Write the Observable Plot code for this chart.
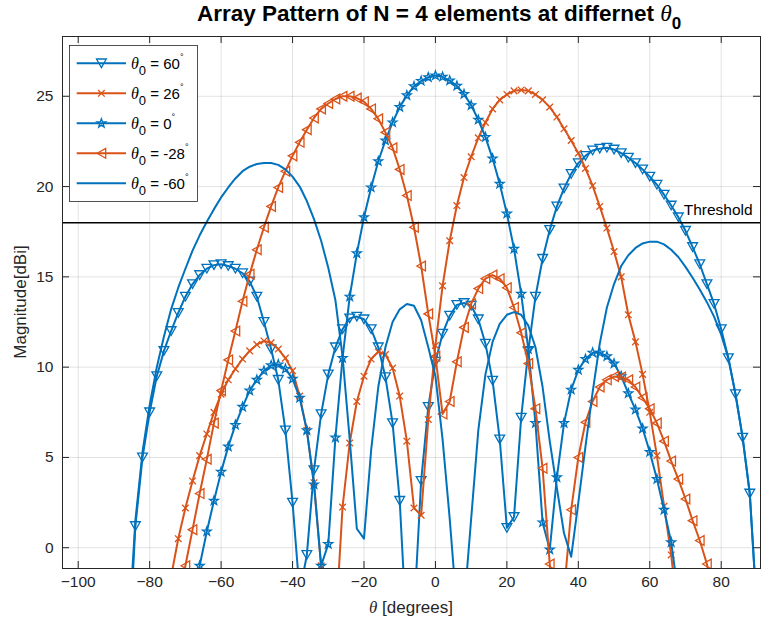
<!DOCTYPE html>
<html>
<head>
<meta charset="utf-8">
<script src="https://cdn.jsdelivr.net/npm/d3@7"></script>
<script src="https://cdn.jsdelivr.net/npm/@observablehq/plot@0.6"></script>
<style>
  html, body { margin: 0; padding: 0; background: #fff; }
  #chart { position: relative; width: 761px; height: 623px; }
</style>
</head>
<body>
<div id="chart"></div>
<script>
// Scan angle θ in degrees (one sample every 2°)
const angle = [
  -90,-88,-86,-84,-82,-80,-78,-76,-74,-72,
  -70,-68,-66,-64,-62,-60,-58,-56,-54,-52,
  -50,-48,-46,-44,-42,-40,-38,-36,-34,-32,
  -30,-28,-26,-24,-22,-20,-18,-16,-14,-12,
  -10,-8,-6,-4,-2,0,2,4,6,8,
  10,12,14,16,18,20,22,24,26,28,
  30,32,34,36,38,40,42,44,46,48,
  50,52,54,56,58,60,62,64,66,68,
  70,72,74,76,78,80,82,84,86,88,
  90
];

// Array gain in dBi for each steering angle θ0 (null = far below the axis)
const gain60 = [
  null, null, -6.5, 1.2, 5.0, 7.5, 9.5, 10.9, 12.0, 13.0,
  13.9, 14.6, 15.1, 15.45, 15.65, 15.7, 15.6, 15.45, 15.2, 14.75,
  13.9, 12.5, 11.0, 9.3, 6.5, 2.5, -2.5, -0.4, 4.3, 7.4,
  9.6, 11.1, 12.1, 12.7, 12.8, 12.65, 12.1, 11.1, 9.45, 6.9,
  2.6, -4.9, -3.7, 3.7, 7.8, 10.3, 11.85, 12.85, 13.45, 13.55,
  13.4, 12.65, 11.3, 9.25, 6.0, 1.1, 1.7, 7.2, 10.9, 13.9,
  16.0, 17.6, 18.9, 19.9, 20.7, 21.3, 21.7, 22.0, 22.1, 22.15,
  22.05, 21.85, 21.6, 21.3, 20.95, 20.55, 20.1, 19.55, 18.95, 18.3,
  17.55, 16.65, 15.7, 14.6, 13.5, 12.1, 10.5, 8.5, 6.1, 3.0,
  -3.5
];
const gain26 = [
  null, null, null, null, null, null, null, null, -1.6, 0.5,
  2.2, 3.7, 5.1, 6.3, 7.5, 8.5, 9.3, 9.9, 10.45, 10.9,
  11.25, 11.45, 11.35, 11.0, 10.5, 9.8, 8.4, 6.5, 3.6, -1.0,
  -8, -4.5, 2.25, 5.8, 8.1, 9.5, 10.45, 10.85, 10.7, 9.95,
  8.4, 5.9, 2.2, 1.8, 7.1, 11.2, 14.5, 17.0, 18.95, 20.5,
  21.65, 22.7, 23.55, 24.3, 24.8, 25.1, 25.3, 25.35, 25.3, 25.1,
  24.8, 24.4, 23.85, 23.2, 22.55, 21.85, 21.0, 20.05, 18.9, 17.7,
  16.4, 15.0, 12.9, 11.4, 9.6, 7.5, 5.1, 2.3, -0.4, -4,
  null, null, null, null, null, null, null, null, null, null,
  null
];
const gain0 = [
  null, null, null, null, null, null, null, null, null, null,
  null, -3.5, -1.0, 0.9, 2.6, 4.2, 5.6, 6.8, 7.8, 8.7,
  9.3, 9.8, 10.1, 10.15, 9.9, 9.35, 8.3, 6.5, 3.5, -1.0,
  0.2, 6.1, 10.5, 13.9, 16.3, 18.3, 19.95, 21.4, 22.55, 23.55,
  24.4, 25.05, 25.55, 25.85, 26.05, 26.15, 26.08, 25.87, 25.58, 25.12,
  24.5, 23.7, 22.74, 21.55, 20.15, 18.5, 16.55, 14.06, 11.0, 6.9,
  1.4, -0.1, 3.9, 6.9, 8.75, 9.85, 10.45, 10.8, 10.8, 10.6,
  10.2, 9.5, 8.55, 7.65, 6.6, 5.3, 3.8, 2.1, 0.3, -2.6,
  null, null, null, null, null, null, null, null, null, null,
  null
];
const gainM28 = [
  null, null, null, null, null, null, null, null, null, -3.2,
  -1.0, 1.0, 3.0, 4.9, 6.9, 8.7, 10.4, 12.0, 13.65, 15.15,
  16.5, 17.75, 18.9, 19.95, 20.85, 21.7, 22.45, 23.15, 23.8, 24.3,
  24.6, 24.85, 25.0, 25.0, 24.9, 24.7, 24.3, 23.75, 23.0, 22.15,
  20.95, 19.5, 17.75, 15.6, 12.95, 10.6, 7.4, 8.1, 10.3, 12.2,
  13.5, 14.35, 14.9, 15.1, 14.9, 14.4, 13.3, 11.9, 10.2, 7.7,
  4.4, -0.9, -6, -2.5, 2.1, 5.0, 6.95, 8.1, 8.9, 9.3,
  9.48, 9.45, 9.3, 8.9, 8.3, 7.7, 6.9, 5.9, 4.8, 3.8,
  2.7, 1.5, 0.4, -0.9, -3, null, null, null, null, null,
  null
];
const gainM60 = [
  null, null, -5, 1.5, 5.3, 7.9, 10.0, 11.7, 13.2, 14.4,
  15.45, 16.45, 17.3, 18.05, 18.75, 19.4, 19.95, 20.45, 20.85, 21.1,
  21.25, 21.3, 21.3, 21.2, 20.95, 20.55, 20.0, 19.2, 18.2, 17.0,
  15.5, 13.7, 10.6, 6.0, 1.05, 0.5, 5.4, 8.9, 11.1, 12.5,
  13.2, 13.5, 13.4, 12.6, 11.1, 9.5, 6.0, 1.6, -3.4, -3.3,
  1.6, 6.5, 9.6, 11.4, 12.4, 12.9, 13.05, 12.9, 12.3, 11.1,
  8.9, 5.9, 3.3, 0.8, -0.5, 2.5, 5.6, 8.6, 11.3, 13.3,
  14.6, 15.6, 16.2, 16.6, 16.85, 16.95, 16.95, 16.8, 16.5, 16.1,
  15.55, 14.95, 14.3, 13.6, 12.8, 11.8, 10.5, 8.5, 6.1, 3.0,
  -3.5
];

const steering = ["60", "26", "0", "-28", "-60"];
const threshold = 18;
const xTicks = [-100, -80, -60, -40, -20, 0, 20, 40, 60, 80];
const yTicks = [0, 5, 10, 15, 20, 25];

// ---- styling ----
const BLUE = "#0072BD", ORANGE = "#D95319", INK = "#262626";
const SANS = "'Liberation Sans', Arial, Helvetica, sans-serif";
const SERIF = "'Liberation Serif', 'DejaVu Serif', serif";

// hollow marker shapes (size = π r²)
const triDown = { draw(ctx, size) { const a = Math.sqrt(size / Math.PI), h = a * 1.75;
  ctx.moveTo(-a, -h / 2); ctx.lineTo(a, -h / 2); ctx.lineTo(0, h / 2); ctx.closePath(); } };
const triLeft = { draw(ctx, size) { const a = Math.sqrt(size / Math.PI), h = a * 1.75;
  ctx.moveTo(-h / 2, 0); ctx.lineTo(h / 2, -a); ctx.lineTo(h / 2, a); ctx.closePath(); } };
const cross = { draw(ctx, size) { const a = Math.sqrt(size / Math.PI) * 0.72;
  ctx.moveTo(-a, -a); ctx.lineTo(a, a); ctx.moveTo(-a, a); ctx.lineTo(a, -a); } };
const pentagram = { draw(ctx, size) { const R = Math.sqrt(size / Math.PI) * 1.05, r = R * 0.4;
  for (let k = 0; k < 10; ++k) { const rr = k % 2 ? r : R, t = -Math.PI / 2 + k * Math.PI / 5;
    const px = rr * Math.cos(t), py = rr * Math.sin(t); k ? ctx.lineTo(px, py) : ctx.moveTo(px, py); }
  ctx.closePath(); } };

const series = [
  { label: steering[0], values: gain60, color: BLUE, marker: triDown, r: 4.9 },
  { label: steering[1], values: gain26, color: ORANGE, marker: cross, r: 4.6 },
  { label: steering[2], values: gain0, color: BLUE, marker: pentagram, r: 4.4 },
  { label: steering[3], values: gainM28, color: ORANGE, marker: triLeft, r: 4.9 },
  { label: steering[4], values: gainM60, color: BLUE, marker: null, r: 0 }
];

const W = 761, H = 623, mL = 62, mR = 1, mT = 36, mB = 55;
const frameW = W - mL - mR, frameH = H - mT - mB, tick = 7;

const marks = [
  Plot.ruleX(xTicks, { stroke: INK, strokeOpacity: 0.13, strokeWidth: 1 }),
  Plot.ruleY(yTicks, { stroke: INK, strokeOpacity: 0.13, strokeWidth: 1 })
];
for (const s of series) {
  marks.push(Plot.line(s.values, { x: (d, i) => angle[i], y: d => d, stroke: s.color, strokeWidth: 2, clip: true }));
  if (s.marker) marks.push(Plot.dot(s.values, { x: (d, i) => angle[i], y: d => d, symbol: s.marker, r: s.r,
    stroke: s.color, fill: "none", strokeWidth: 1.3, clip: true }));
}
marks.push(
  Plot.ruleY([threshold], { stroke: "#000", strokeWidth: 1.5 }),
  Plot.text(["Threshold"], { x: 69.5, y: threshold, dy: -13, textAnchor: "start", fontSize: 15.5, fill: "#000" }),
  // inward ticks on all four sides
  Plot.ruleX(xTicks, { stroke: INK, insetTop: frameH - tick }),
  Plot.ruleX(xTicks, { stroke: INK, insetBottom: frameH - tick }),
  Plot.ruleY(yTicks, { stroke: INK, insetRight: frameW - tick }),
  Plot.ruleY(yTicks, { stroke: INK, insetLeft: frameW - tick }),
  Plot.frame({ stroke: INK, strokeWidth: 1 }),
  Plot.axisX(xTicks, { tickSize: 0, tickPadding: 7, fontSize: 15.5, label: null, fill: INK }),
  Plot.axisY(yTicks, { tickSize: 0, tickPadding: 9, fontSize: 15.5, label: null, fill: INK })
);

const chart = Plot.plot({
  width: W, height: H,
  marginLeft: mL, marginRight: mR, marginTop: mT, marginBottom: mB,
  x: { domain: [-104.4, 91.0] },
  y: { domain: [-1.15, 28.31] },
  style: { fontFamily: SANS, background: "#fff", color: INK, overflow: "visible" },
  marks
});
document.getElementById("chart").appendChild(chart);

const svg = d3.select(chart);

// title
const title = svg.append("text").attr("x", 197).attr("y", 21)
  .attr("text-anchor", "start").attr("font-family", SANS).attr("font-size", 22.5)
  .attr("font-weight", "bold").attr("fill", "#000");
title.append("tspan").text("Array Pattern of N = 4 elements at differnet ");
title.append("tspan").attr("font-family", SERIF).attr("font-style", "italic").attr("font-weight", "normal").attr("font-size", 23.5).text("θ");
title.append("tspan").attr("font-size", 17).attr("dy", 8).text("0");

// axis labels
const xl = svg.append("text").attr("x", mL + frameW / 2).attr("y", 613)
  .attr("text-anchor", "middle").attr("font-family", SANS).attr("font-size", 17).attr("fill", INK);
xl.append("tspan").attr("font-family", SERIF).attr("font-style", "italic").text("θ");
xl.append("tspan").text(" [degrees]");
svg.append("text").attr("transform", `translate(26,${mT + frameH / 2}) rotate(-90)`)
  .attr("text-anchor", "middle").attr("font-family", SANS).attr("font-size", 17).attr("fill", INK)
  .text("Magnitude[dBi]");

// legend
const lg = svg.append("g").attr("font-family", SANS).attr("font-size", 15).attr("fill", "#000")
  .attr("text-anchor", "start");
lg.append("rect").attr("x", 69.5).attr("y", 45.5).attr("width", 128).attr("height", 156)
  .attr("fill", "#fff").attr("stroke", INK).attr("stroke-width", 0.8);
series.forEach((s, i) => {
  const cy = 63.3 + i * 30;
  lg.append("line").attr("x1", 76.7).attr("x2", 126).attr("y1", cy).attr("y2", cy)
    .attr("stroke", s.color).attr("stroke-width", 2);
  if (s.marker) lg.append("path").attr("d", d3.symbol(s.marker, s.r * s.r * Math.PI)())
    .attr("transform", `translate(101.4,${cy})`).attr("fill", "none")
    .attr("stroke", s.color).attr("stroke-width", 1.3);
  const t = lg.append("text").attr("x", 131).attr("y", cy + 5.5).attr("text-anchor", "start");
  t.append("tspan").attr("font-family", SERIF).attr("font-style", "italic").attr("font-size", 16).text("θ");
  t.append("tspan").attr("font-size", 13).attr("dy", 6).text("0");
  t.append("tspan").attr("dy", -6).text(" = " + s.label);
  t.append("tspan").attr("font-size", 9).attr("dy", -9).text("°");
});
</script>
</body>
</html>
